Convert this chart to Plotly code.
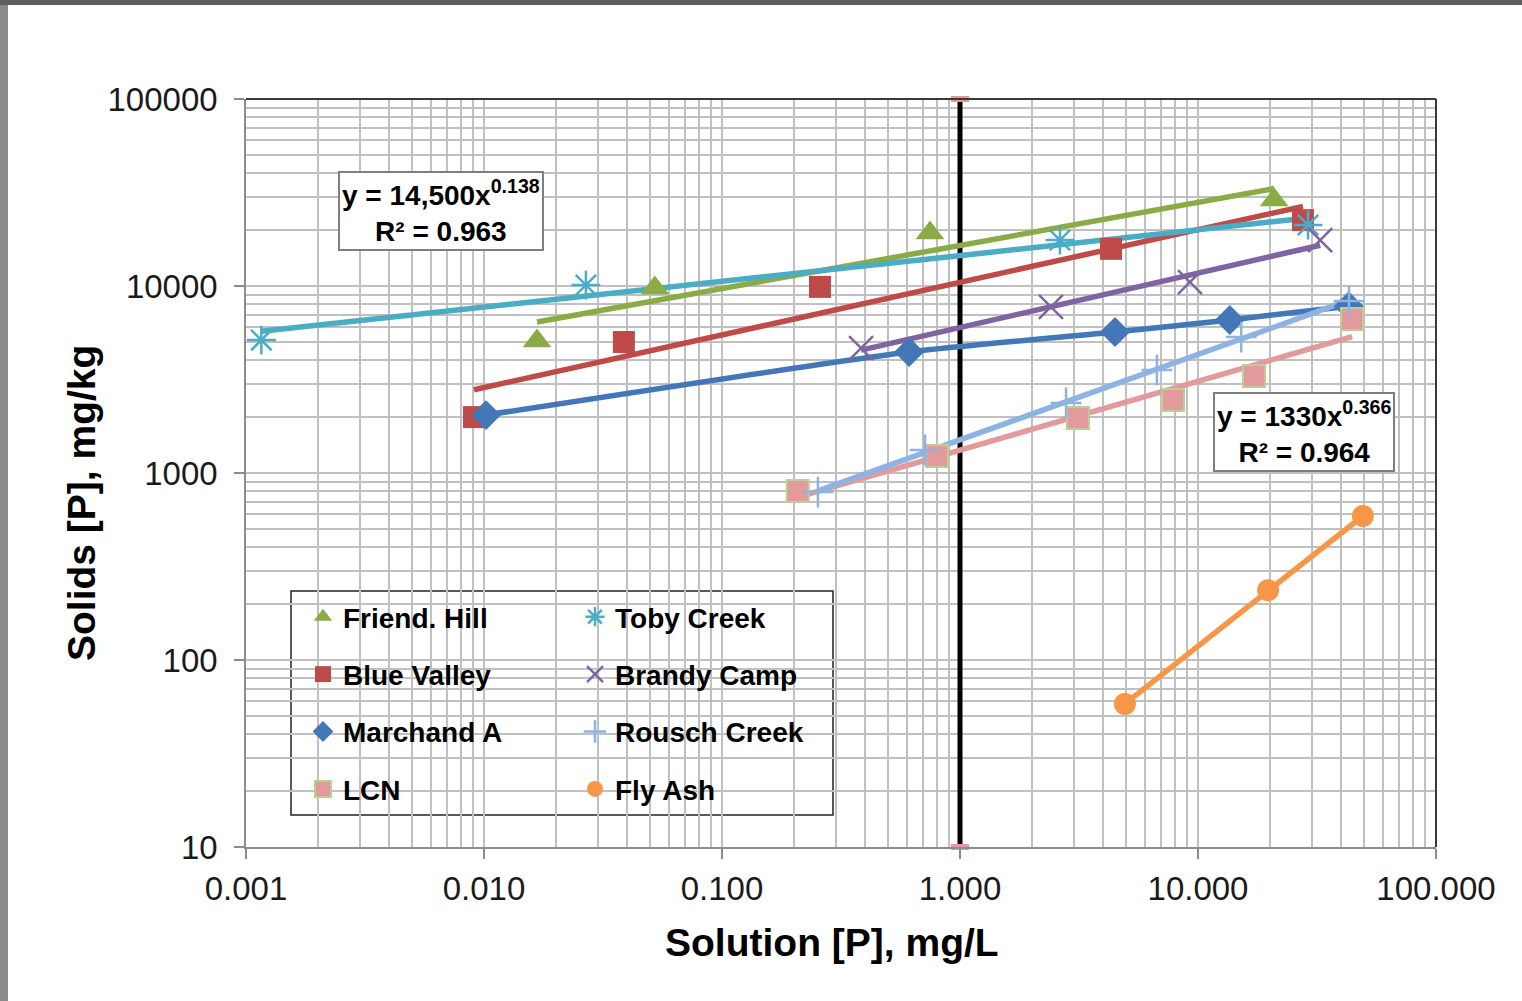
import numpy as np
import plotly.graph_objects as go

# ---------------- data ----------------
friend_x = [0.0167, 0.0522, 0.748, 20.9]
friend_y = [5080, 9750, 19200, 28800]

blue_valley_x = [0.00908, 0.0387, 0.258, 4.31, 27.6]
blue_valley_y = [1990, 5020, 9890, 15800, 22500]

marchand_x = [0.0102, 0.611, 4.48, 13.6, 43.0]
marchand_y = [2040, 4440, 5680, 6580, 7800]

lcn_x = [0.208, 0.80, 3.13, 7.85, 17.2, 44.4]
lcn_y = [802, 1233, 1967, 2455, 3300, 6670]

toby_x = [0.00116, 0.0268, 2.63, 29.0]
toby_y = [5140, 10120, 17600, 21200]

brandy_x = [0.384, 2.41, 9.25, 32.6]
brandy_y = [4660, 7730, 10500, 17600]

rousch_x = [0.253, 0.713, 2.79, 6.72, 15.2, 43.1]
rousch_y = [791, 1327, 2367, 3556, 5330, 8320]

flyash_x = [4.93, 19.7, 49.3]
flyash_y = [58.2, 236, 589]

ref_x = [1.0, 1.0]
ref_y = [10, 100000]

x_tickvals = [0.001, 0.01, 0.1, 1, 10, 100]
y_tickvals = [10, 100, 1000, 10000, 100000]

eq_toby = "y = 14,500x<sup>0.138</sup><br>R² = 0.963"
eq_lcn = "y = 1330x<sup>0.366</sup><br>R² = 0.964"

# ---------------- layout geometry ----------------
W, H = 1522, 1001
L, R, T, B = 246, 1436, 99, 847


def px(xp):
    return (xp - L) / (R - L)


def py(yp):
    return (B - yp) / (B - T)


FONT = "Liberation Sans, Arial, sans-serif"

fig = go.Figure()


def power_fit_line(xs, ys):
    lx, ly = np.log10(xs), np.log10(ys)
    k, c = np.polyfit(lx, ly, 1)
    xx = np.logspace(lx.min(), lx.max(), 50)
    return xx, 10 ** (c + k * np.log10(xx))


# (name, x, y, color, symbol, size, line kind, legend, marker line)
series = [
    ("Friend. Hill", friend_x, friend_y, "#8aab46", "triangle-up", 25, "fit", "legend", None),
    ("Blue Valley", blue_valley_x, blue_valley_y, "#be4b48", "square", 22, "fit", "legend", None),
    ("Marchand A", marchand_x, marchand_y, "#4377b8", "diamond", 23, "spline", "legend", None),
    ("LCN", lcn_x, lcn_y, "#e39a9b", "square", 22, "fit", "legend", "#b9cf93"),
    ("Toby Creek", toby_x, toby_y, "#4bacc6", "asterisk-open", 24, "fit", "legend2", None),
    ("Brandy Camp", brandy_x, brandy_y, "#8064a2", "x-thin-open", 24, "fit", "legend2", None),
    ("Rousch Creek", rousch_x, rousch_y, "#8db3e2", "cross-thin-open", 22, "fit", "legend2", None),
    ("Fly Ash", flyash_x, flyash_y, "#f79646", "circle", 22, "straight", "legend2", None),
]

# reference line at x = 1
fig.add_trace(go.Scatter(
    x=ref_x, y=ref_y, mode="lines+markers", showlegend=False, cliponaxis=False,
    line=dict(color="black", width=5),
    marker=dict(symbol="line-ew-open", size=13, color="#e39a9b", line=dict(width=6, color="#e39a9b")),
    hoverinfo="skip"))

LW = 5.5
# lines first
for name, xs, ys, col, sym, sz, kind, lg, mline in series:
    if kind == "fit":
        xx, yy = power_fit_line(xs, ys)
        fig.add_trace(go.Scatter(x=xx, y=yy, mode="lines", showlegend=False,
                                 line=dict(color=col, width=LW), hoverinfo="skip"))
    elif kind == "spline":
        fig.add_trace(go.Scatter(x=xs, y=ys, mode="lines", showlegend=False,
                                 line=dict(color=col, width=LW, shape="spline", smoothing=0.6),
                                 hoverinfo="skip"))
    else:
        fig.add_trace(go.Scatter(x=xs, y=ys, mode="lines", showlegend=False,
                                 line=dict(color=col, width=LW), hoverinfo="skip"))

# markers (also the legend entries)
for i, (name, xs, ys, col, sym, sz, kind, lg, mline) in enumerate(series):
    if sym.endswith("-open"):
        mk = dict(symbol=sym, size=sz, color=col, line=dict(color=col, width=2.5))
    elif mline:
        mk = dict(symbol=sym, size=sz, color=col, line=dict(color=mline, width=2))
    else:
        mk = dict(symbol=sym, size=sz, color=col, line=dict(width=0))
    fig.add_trace(go.Scatter(x=xs, y=ys, mode="markers", name=name, marker=mk,
                             legend=lg, legendgroup="g%d" % i))

axis_common = dict(
    type="log", showline=True, linecolor="#8c8c8c", linewidth=1.5,
    showgrid=True, gridcolor="#c0c0c0", gridwidth=1.5,
    ticks="outside", ticklen=10, tickcolor="#8c8c8c", tickwidth=1.5,
    tickfont=dict(family=FONT, size=33, color="#1a1a1a"),
    zeroline=False,
    minor=dict(dtick="D1", showgrid=True, gridcolor="#c0c0c0", gridwidth=1.5, ticks=""),
)

fig.update_xaxes(**axis_common, range=[-3, 2], tickmode="array", tickvals=x_tickvals,
                 tickformat=".3f", ticklabelstandoff=2)
fig.update_yaxes(**axis_common, range=[1, 5], tickmode="array", tickvals=y_tickvals,
                 tickformat="d", ticklabelstandoff=10)

legend_common = dict(
    font=dict(family=FONT, size=28, color="black", weight="bold"),
    bgcolor="rgba(0,0,0,0)", borderwidth=0, traceorder="grouped",
    tracegroupgap=18, itemsizing="trace", xanchor="left", yanchor="top",
)

shapes = [
    # legend box
    dict(type="rect", xref="paper", yref="paper", x0=px(291), x1=px(833), y0=py(591), y1=py(815),
         line=dict(color="#222222", width=1.5), fillcolor="white", layer="between"),
    # plot border top & right
    dict(type="line", xref="paper", yref="paper", x0=0, x1=1, y0=1, y1=1,
         line=dict(color="#3a3a3a", width=2), layer="above"),
    dict(type="line", xref="paper", yref="paper", x0=1, x1=1, y0=0, y1=1,
         line=dict(color="#3a3a3a", width=2), layer="above"),
    # window frame
    dict(type="rect", xref="paper", yref="paper", x0=px(0), x1=px(8), y0=py(H), y1=py(0),
         line=dict(width=0), fillcolor="#8a8a8a", layer="below"),
    dict(type="rect", xref="paper", yref="paper", x0=px(0), x1=px(W), y0=py(5), y1=py(0),
         line=dict(width=0), fillcolor="#5e5e5e", layer="below"),
]

ann_font = dict(family=FONT, size=28, color="black", weight="bold")
annotations = [
    dict(text=eq_toby, xref="paper", yref="paper", x=px(441), y=py(211), showarrow=False,
         font=ann_font, align="center", bgcolor="white", bordercolor="#7f7f7f", borderwidth=2,
         borderpad=2, xanchor="center", yanchor="middle"),
    dict(text=eq_lcn, xref="paper", yref="paper", x=px(1304), y=py(432), showarrow=False,
         font=ann_font, align="center", bgcolor="white", bordercolor="#7f7f7f", borderwidth=2,
         borderpad=2, xanchor="center", yanchor="middle"),
    dict(text="Solution [P], mg/L", xref="paper", yref="paper", x=px(832), y=py(942),
         showarrow=False, font=dict(family=FONT, size=39, color="black", weight="bold"),
         xanchor="center", yanchor="middle"),
    dict(text="Solids [P], mg/kg", xref="paper", yref="paper", x=px(82), y=py(503),
         showarrow=False, textangle=-90,
         font=dict(family=FONT, size=39, color="black", weight="bold"),
         xanchor="center", yanchor="middle"),
]

fig.update_layout(
    width=W, height=H, autosize=False,
    margin=dict(l=L, r=W - R, t=T, b=H - B, pad=0),
    paper_bgcolor="white", plot_bgcolor="white",
    showlegend=True,
    legend=dict(**legend_common, x=px(303), y=py(592)),
    legend2=dict(**legend_common, x=px(575), y=py(592)),
    shapes=shapes, annotations=annotations,
)

fig.write_html("out.html")
